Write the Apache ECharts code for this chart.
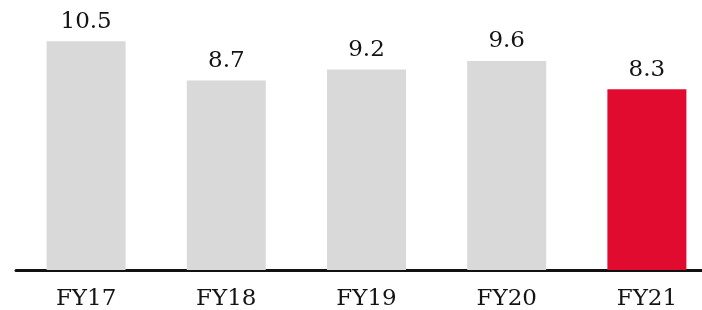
<!DOCTYPE html>
<html>
<head>
<meta charset="utf-8">
<script src="https://cdn.jsdelivr.net/npm/echarts@6/dist/echarts.min.js"></script>
<style>
  html, body { margin: 0; padding: 0; background: #fff; }
  #chart { width: 702px; height: 310px; }
</style>
</head>
<body>
<div id="chart"></div>
<script>
const categories = ['FY17', 'FY18', 'FY19', 'FY20', 'FY21'];
const values = [10.5, 8.7, 9.2, 9.6, 8.3];
const barColors = ['#d9d9d9', '#d9d9d9', '#d9d9d9', '#d9d9d9', '#e00b2e'];

const chart = echarts.init(document.getElementById('chart'));

const option = {
  animation: false,
  // the axis runs past the right edge, so width is set instead of right
  grid: { left: 16, width: 701, top: 8.6, bottom: 40, outerBoundsMode: 'none', containLabel: false },
  xAxis: {
    type: 'category',
    data: categories,
    axisLine: { lineStyle: { color: '#111', width: 3 } },
    axisTick: { show: false },
    axisLabel: {
      color: '#141414',
      fontFamily: 'DejaVu Serif',
      fontSize: 23,
      margin: 18
    }
  },
  yAxis: {
    type: 'value',
    min: 0,
    max: 12,
    show: false,
    splitLine: { show: false }
  },
  series: [{
    type: 'bar',
    barWidth: 79,
    data: values.map((v, i) => ({ value: v, itemStyle: { color: barColors[i] } })),
    label: {
      show: true,
      position: 'top',
      distance: 8,
      color: '#141414',
      fontFamily: 'DejaVu Serif',
      fontSize: 23
    }
  }]
};

chart.setOption(option);
</script>
</body>
</html>
